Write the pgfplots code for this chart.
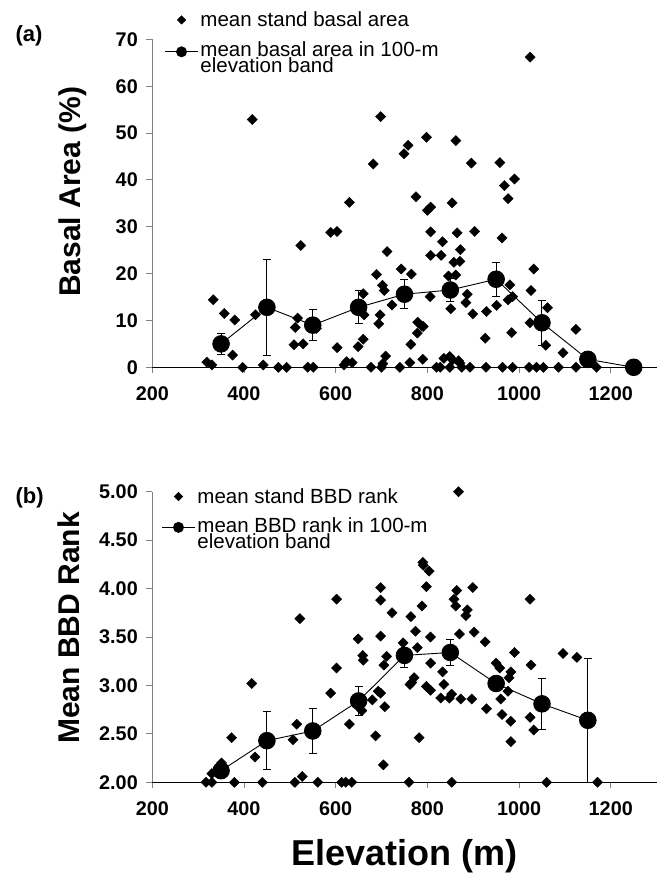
\documentclass[border=0pt]{standalone}
\usepackage{pgfplots}
\pgfplotsset{compat=1.18}
\usepackage{fontspec}
\setmainfont{Liberation Sans}
\definecolor{axgray}{RGB}{128,128,128}

\pgfplotstableread{
x y
630 35.2
589 28.8
603 29.0
524 26.0
712 24.7
743 21.0
689 19.8
702 17.5
706 16.4
660 15.7
723 13.3
333 14.4
357 11.5
380 10.1
425 11.2
517 10.5
512 8.5
558 8.3
662 11.2
697 11.2
694 9.3
660 6.0
649 4.4
603 4.2
509 4.8
529 5.0
375 2.6
709 2.4
319 1.1
330 0.5
442 0.5
397 0
475 0
493 0
539 0
551 0
618 0.5
624 1.2
636 1.0
677 0
703 0.8
700 0
740 0
418 52.9
698 53.5
682 43.4
1024 66.2
798 49.1
862 48.4
758 47.4
749 45.6
896 43.6
958 43.7
990 40.2
968 38.8
976 36.0
775 36.4
807 34.2
800 33.5
854 35.1
807 28.9
865 28.7
903 29.0
963 27.6
833 26.8
807 23.9
830 23.9
872 25.1
858 22.4
871 22.6
765 19.9
846 19.5
862 19.7
1032 21.0
980 17.6
1026 16.4
806 15.1
887 15.6
884 13.8
851 12.5
899 11.4
929 11.9
951 13.2
976 14.4
986 15.1
1062 12.7
779 9.6
788 8.8
791 8.7
778 7.3
764 4.9
926 6.2
984 7.4
1024 9.5
1058 4.7
1096 3.1
1124 8.1
762 1.0
790 1.7
836 1.9
849 2.3
855 1.6
868 1.4
871 0.9
820 0
828 0
849 0
875 0
893 0
928 0
964 0
986 0
1022 0
1038 0
1053 0
1086 0
1124 0
1169 0
}\standA

\pgfplotstableread{
x y e
350 5.0 2.2
450 12.8 10.2
550 9.0 3.3
650 12.8 3.5
750 15.6 3.1
850 16.5 2.5
950 18.8 3.6
1050 9.5 4.75
1150 1.7 0
1250 0.0 0
}\meanA

\pgfplotstableread{
x y
698 4.01
602 3.89
698 3.88
723 3.75
522 3.69
698 3.51
649 3.48
868 5.00
790 4.27
791 4.24
804 4.18
798 4.02
864 3.98
899 4.01
858 3.89
862 3.82
887 3.78
884 3.72
1024 3.89
788 3.82
764 3.71
774 3.56
807 3.50
870 3.53
902 3.55
926 3.45
747 3.44
778 3.39
711 3.30
990 3.34
1096 3.33
1126 3.29
705 3.21
807 3.23
833 3.14
771 3.08
766 3.03
762 3.01
798 2.99
807 2.95
836 3.01
853 2.91
848 2.87
829 2.87
873 2.86
897 2.86
950 3.23
958 3.18
982 3.14
978 3.08
1026 3.21
960 2.86
976 2.94
929 2.76
963 2.70
982 2.63
1024 2.67
1032 2.54
982 2.42
782 2.46
707 2.78
698 2.92
704 2.18
760 2.00
853 2.00
1060 2.00
1171 2.00
659 3.31
660 3.26
602 3.18
589 2.92
417 3.02
693 2.94
680 2.85
649 2.78
657 2.74
630 2.60
515 2.60
507 2.44
687 2.48
373 2.46
424 2.26
351 2.20
330 2.09
527 2.06
317 2.00
330 2.00
379 2.00
440 2.00
511 2.00
561 2.00
613 2.00
622 2.00
635 2.00
}\standB

\pgfplotstableread{
x y e
350 2.12 0.04
450 2.43 0.30
550 2.53 0.23
650 2.84 0.15
750 3.31 0.13
850 3.34 0.13
950 3.02 0.05
1050 2.81 0.265
1150 2.64 0.64
}\meanB

\pgfplotsset{
  myaxis/.style={
    scale only axis, width=504.3pt,
    xmin=200, xmax=1300,
    xtick={200,400,...,1200},
    axis x line=bottom, axis y line=left,
    axis line style={-},
    x axis line style={black, line width=1.2pt},
    y axis line style={axgray, line width=0.9pt},
    tick style={axgray, line width=0.9pt},
    tick align=outside, major tick length=6pt,
    /pgf/number format/assume math mode=true,
    ticklabel style={font=\bfseries\fontsize{19.8}{20}\selectfont},
    xticklabel style={/pgf/number format/1000 sep={}, yshift=-10pt},
    yticklabel style={xshift=-5pt},
    clip=false,
    legend style={draw=none, fill=none, font=\fontsize{20.5}{16}\selectfont,
      cells={anchor=west, align=left}},
    ylabel style={font=\bfseries\fontsize{30}{30}\selectfont},
  },
  scat/.style={only marks, mark=square*, mark size=3.6pt, mark options={rotate=45, black, fill=black},
    legend image code/.code={\draw[##1, mark size=3pt] plot coordinates {(16.5pt,0pt)};}},
  meanline/.style={black, line width=0.9pt, mark=*, mark size=8.3pt, mark options={fill=black},
    legend image code/.code={\draw[##1, mark size=5pt, mark repeat=2, mark phase=2] plot coordinates {(0pt,6pt) (16.5pt,6pt) (33pt,6pt)};}},
  ebars/.style={error bars/.cd, y dir=both, y explicit,
    error bar style={line width=1pt, black},
    error mark options={rotate=90, mark size=4pt, line width=1pt, black}},
}

\begin{document}
\begin{tikzpicture}
\path[use as bounding box] (0pt,0pt) rectangle (661pt,874pt);

\begin{axis}[myaxis, at={(152.3pt,506.7pt)}, anchor=south west,
  height=327.9pt, ymin=0, ymax=70, ytick={0,10,...,70},
  ylabel={Basal Area (\%)},
  ylabel style={at={(rel axis cs:-0.1415,0.535)}, anchor=base},
  legend style={at={(rel axis cs:0.018,1.097)}, anchor=north west, row sep=9.5pt},
]
\addplot[scat] table[x=x, y=y] {\standA};
\addlegendentry{mean stand basal area}
\addplot[meanline, ebars] table[x=x, y=y, y error=e] {\meanA};
\addlegendentry{mean basal area in 100-m\\elevation band}
\end{axis}

\begin{axis}[myaxis, at={(152.3pt,91.7pt)}, anchor=south west,
  height=290.6pt, ymin=2, ymax=5, ytick={2,2.5,...,5},
  yticklabel style={/pgf/number format/fixed, /pgf/number format/fixed zerofill, /pgf/number format/precision=2},
  ylabel={Mean BBD Rank},
  ylabel style={at={(rel axis cs:-0.145,0.531)}, anchor=base},
  xlabel={Elevation (m)},
  xlabel style={at={(rel axis cs:0.5,-0.288)}, anchor=base, font=\bfseries\fontsize{36}{36}\selectfont},
  legend style={at={(rel axis cs:0.012,1.026)}, anchor=north west, row sep=8.5pt},
]
\addplot[scat] table[x=x, y=y] {\standB};
\addlegendentry{mean stand BBD rank}
\addplot[meanline, ebars] table[x=x, y=y, y error=e] {\meanB};
\addlegendentry{mean BBD rank in 100-m\\elevation band}
\end{axis}

\node[anchor=base west, font=\bfseries\fontsize{22}{22}\selectfont] at (12pt,832pt) {(a)};
\node[anchor=base west, font=\bfseries\fontsize{22}{22}\selectfont] at (12pt,370pt) {(b)};
\end{tikzpicture}
\end{document}
